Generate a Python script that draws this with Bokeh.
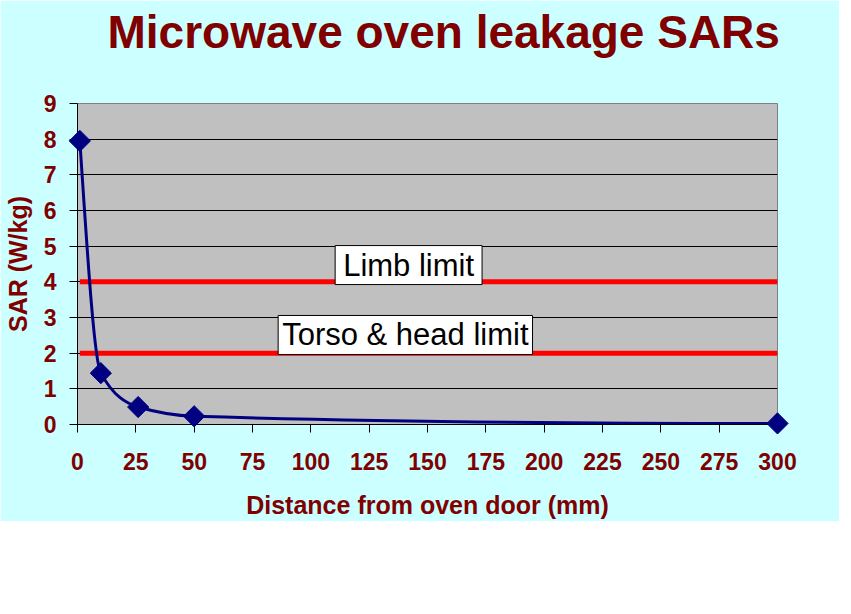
import math
from bokeh.plotting import figure
from bokeh.models import Label, Range1d, FixedTicker, Title
from bokeh.embed import file_html
from bokeh.resources import INLINE

# ---- data ----
distance_mm = [1, 10, 26, 50, 300]
sar_wkg = [7.95, 1.44, 0.49, 0.23, 0.03]
limit_values = [4, 2]
limit_names = ["Limb limit", "Torso & head limit"]
x_ticks = list(range(0, 301, 25))
y_ticks = list(range(0, 10))

DARK_RED = "#800000"
NAVY = "#000080"
FONT = "Liberation Sans"
FRAME_W, FRAME_H = 700, 321
X_MAX, Y_MAX = 300, 9

# monotone cubic (PCHIP) tangents -> bezier control points for a smoothed line
n = len(distance_mm)
h = [distance_mm[i + 1] - distance_mm[i] for i in range(n - 1)]
d = [(sar_wkg[i + 1] - sar_wkg[i]) / h[i] for i in range(n - 1)]
m = [0.0] * n
for k in range(1, n - 1):
    if d[k - 1] * d[k] <= 0:
        m[k] = 0.0
    else:
        w1 = 2 * h[k] + h[k - 1]
        w2 = h[k] + 2 * h[k - 1]
        m[k] = (w1 + w2) / (w1 / d[k - 1] + w2 / d[k])


def end_slope(h0, h1, d0, d1):
    s = ((2 * h0 + h1) * d0 - h0 * d1) / (h0 + h1)
    if s * d0 <= 0:
        return 0.0
    if d0 * d1 <= 0 and abs(s) > abs(3 * d0):
        return 3 * d0
    return s


m[0] = end_slope(h[0], h[1], d[0], d[1])
m[-1] = end_slope(h[-1], h[-2], d[-1], d[-2])

x0 = distance_mm[:-1]
y0 = sar_wkg[:-1]
x1 = distance_mm[1:]
y1 = sar_wkg[1:]
cx0 = [distance_mm[i] + h[i] / 3 for i in range(n - 1)]
cy0 = [sar_wkg[i] + m[i] * h[i] / 3 for i in range(n - 1)]
cx1 = [distance_mm[i + 1] - h[i] / 3 for i in range(n - 1)]
cy1 = [sar_wkg[i + 1] - m[i + 1] * h[i] / 3 for i in range(n - 1)]

p = figure(
    frame_width=FRAME_W, frame_height=FRAME_H,
    min_border_left=73, min_border_right=62, min_border_top=103, min_border_bottom=93,
    x_range=Range1d(0, X_MAX), y_range=Range1d(0, Y_MAX),
    output_backend="svg", toolbar_location=None,
    background_fill_color="#C0C0C0", border_fill_color="#CCFFFF",
    outline_line_color="#808080",
)

# spacer between the frame and the title
p.add_layout(Title(text=" ", text_font_size="1px", standoff=43), "above")

p.title.text = "Microwave oven leakage SARs"
p.title.text_font = FONT
p.title.text_font_size = "46px"
p.title.text_font_style = "bold"
p.title.text_color = DARK_RED
p.title.align = "left"
p.title.offset = 30
p.title.vertical_align = "bottom"
p.title.standoff = 0

# grid
p.xgrid.grid_line_color = None
p.ygrid.ticker = FixedTicker(ticks=y_ticks[1:-1])
p.ygrid.grid_line_color = "black"
p.ygrid.grid_line_width = 1

# axes
for ax in (p.xaxis[0], p.yaxis[0]):
    ax.axis_line_color = "black"
    ax.axis_line_width = 1
    ax.major_tick_line_color = "black"
    ax.major_tick_in = 0
    ax.major_tick_out = 8
    ax.minor_tick_line_color = None
    ax.major_label_text_font = FONT
    ax.major_label_text_font_size = "23px"
    ax.major_label_text_font_style = "bold"
    ax.major_label_text_color = DARK_RED
    ax.axis_label_text_font = FONT
    ax.axis_label_text_font_size = "25px"
    ax.axis_label_text_font_style = "bold"
    ax.axis_label_text_color = DARK_RED

p.xaxis.ticker = FixedTicker(ticks=x_ticks)
p.yaxis.ticker = FixedTicker(ticks=y_ticks)
p.xaxis.axis_label = "Distance from oven door (mm)"
p.yaxis.axis_label = "SAR (W/kg)"
p.xaxis.major_label_standoff = 20
p.xaxis.axis_label_standoff = 18
p.yaxis.major_label_standoff = 13
p.yaxis.axis_label_standoff = 9

# limit lines
for v in limit_values:
    p.line([distance_mm[0], X_MAX], [v, v], line_color="#FF0000", line_width=5)

# smoothed curve and markers (markers drawn at overlay level so the frame edge does not cut them)
p.bezier(x0=x0, y0=y0, x1=x1, y1=y1, cx0=cx0, cy0=cy0, cx1=cx1, cy1=cy1,
         line_color=NAVY, line_width=3)
p.scatter(distance_mm, sar_wkg, marker="square", angle=math.pi / 4, size=15,
          fill_color=NAVY, line_color=NAVY, level="overlay")

# limit labels
label_pos = [(141.9, 4.47), (140.5, 2.51)]
label_pad = [(8, 2), (4, 2)]
for (lx, ly), pad, txt in zip(label_pos, label_pad, limit_names):
    p.add_layout(Label(
        x=lx, y=ly, text=txt, text_align="center", text_baseline="middle",
        text_font=FONT, text_font_size="31px", text_color="black",
        background_fill_color="white", border_line_color="black", border_line_width=1,
        padding=pad,
    ))

open("out.html", "w").write(file_html(p, INLINE))
